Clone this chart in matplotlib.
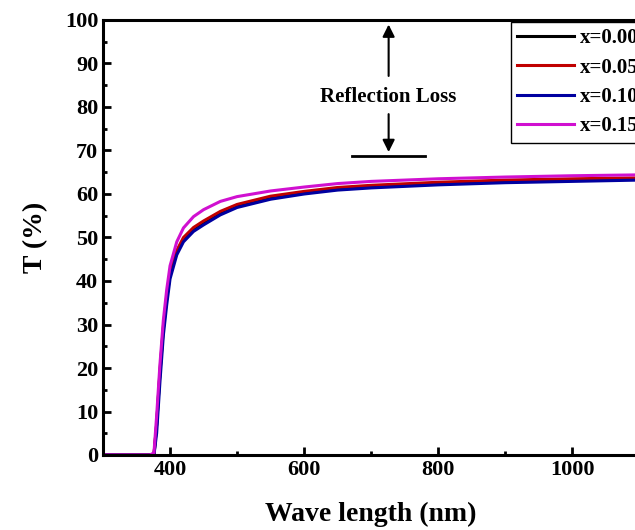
import matplotlib.pyplot as plt
import numpy as np

plt.rcParams["font.family"] = ["Liberation Serif", "DejaVu Serif"]
plt.rcParams["font.weight"] = "bold"

wavelength = [300, 370, 376, 380, 385, 390, 395, 400, 410, 420, 435, 450,
              475, 500, 550, 600, 650, 700, 800, 900, 1000, 1100]
t_000 = [0, 0, 0, 7, 19, 29, 36, 41.5, 46.5, 49.5, 51.8, 53.3,
         55.6, 57.3, 59.1, 60.3, 61.2, 61.7, 62.4, 62.9, 63.2, 63.4]
t_005 = [0, 0, 0, 7, 19.5, 29.5, 36.5, 42, 47, 50, 52.3, 53.8,
         56.0, 57.6, 59.5, 60.6, 61.5, 62.0, 62.7, 63.2, 63.5, 63.7]
t_010 = [0, 0, 0, 5, 17, 27.5, 34.5, 40.5, 46, 49, 51.4, 52.9,
         55.2, 56.9, 58.8, 60.0, 60.9, 61.4, 62.1, 62.6, 62.9, 63.2]
t_015 = [0, 0, 0.5, 9, 21, 31, 38, 43.5, 49, 52.2, 54.8, 56.4,
         58.3, 59.4, 60.7, 61.6, 62.4, 62.9, 63.5, 63.9, 64.2, 64.4]

labels = ["x=0.00", "x=0.05", "x=0.10", "x=0.15"]
colors = ["black", "#c00000", "#0000a0", "#d010d0"]
series = [t_000, t_005, t_010, t_015]

fig = plt.figure(figsize=(6.35, 5.3), dpi=100)
ax = fig.add_axes([103 / 635, 75 / 530, 536.4 / 635, 435 / 530])

for s, c, lab in zip(series, colors, labels):
    ax.plot(wavelength, s, color=c, lw=2.2, label=lab)

ax.set_xlim(300, 1100)
ax.set_ylim(0, 100)
ax.set_xticks([400, 600, 800, 1000])
ax.set_xticks(np.arange(300, 1101, 100), minor=True)
ax.set_yticks(np.arange(0, 101, 10))
ax.set_yticks(np.arange(0, 101, 5), minor=True)
ax.tick_params(which="both", direction="in", width=2, labelsize=16)
ax.tick_params(which="major", length=6)
ax.tick_params(which="minor", length=3)
for sp in ax.spines.values():
    sp.set_linewidth(2.2)

ax.set_xlabel("Wave length (nm)", fontsize=20, fontweight="bold", labelpad=16)
ax.set_ylabel("T (%)", fontsize=20, fontweight="bold", labelpad=12)

# reflection loss annotation
ax.annotate("", xy=(726, 99.6), xytext=(726, 86.5),
            arrowprops=dict(arrowstyle="-|>", color="black", lw=1.5, mutation_scale=18))
ax.annotate("", xy=(726, 69), xytext=(726, 79),
            arrowprops=dict(arrowstyle="-|>", color="black", lw=1.5, mutation_scale=18))
ax.plot([671, 780], [68.8, 68.8], color="black", lw=2)
ax.text(726, 82.3, "Reflection Loss", ha="center", va="center", fontsize=15, fontweight="bold")

leg = fig.legend(loc="upper left", bbox_to_anchor=(511 / 635, 1 - 22 / 530),
                 bbox_transform=fig.transFigure, borderaxespad=0, fontsize=15,
                 handlelength=2.7, handletextpad=0.3, labelspacing=0.45,
                 borderpad=0.3, fancybox=False, edgecolor="black", framealpha=1)
leg.get_frame().set_linewidth(1)

fig.savefig("out.png", dpi=100)
